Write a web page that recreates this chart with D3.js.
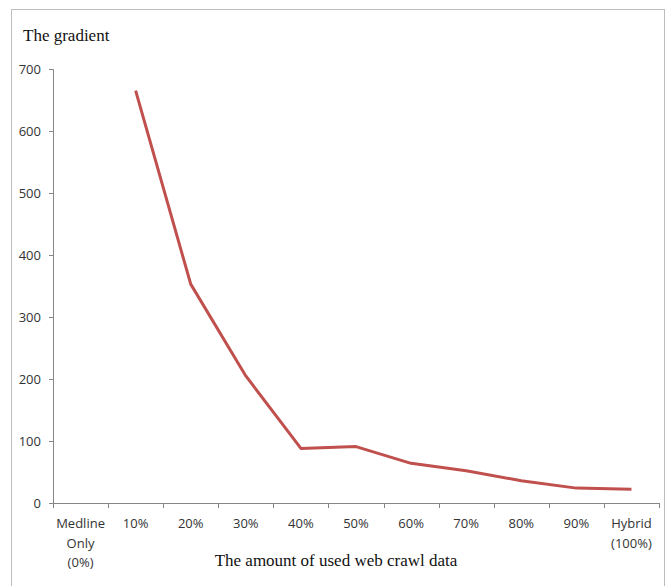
<!DOCTYPE html>
<html>
<head>
<meta charset="utf-8">
<script src="https://cdn.jsdelivr.net/npm/d3@7"></script>
<style>
  body { margin: 0; background: #fff; }
  .axis text { font-family: "Open Sans", "Noto Sans", sans-serif; font-size: 13px; fill: #333; }
  .axis path, .axis line { stroke: #868686; }
  .title { font-family: "Liberation Serif", "Times New Roman", serif; font-size: 17px; fill: #111; }
</style>
</head>
<body>
<div class="chart"></div>
<script>
// Categories (x-axis)
const categories = ["Medline Only (0%)", "10%", "20%", "30%", "40%", "50%", "60%", "70%", "80%", "90%", "Hybrid (100%)"]
// Multi-line tick labels
const tickLabels = [["Medline", "Only", "(0%)"], ["10%"], ["20%"], ["30%"], ["40%"], ["50%"], ["60%"], ["70%"], ["80%"], ["90%"], ["Hybrid", "(100%)"]]
// Gradient values (no value for Medline only)
const gradient = [null, 665, 353, 205, 88, 91, 64, 52, 36, 24, 22]
const yTicks = [0, 100, 200, 300, 400, 500, 600, 700]

const W = 666, H = 586
const margin = {top: 69, right: 7, bottom: 83, left: 53}
const width = W - margin.left - margin.right
const height = H - margin.top - margin.bottom

const svg = d3.select(".chart").append("svg")
    .attr("width", W)
    .attr("height", H)

// Outer frame
svg.append("rect")
    .attr("x", 11.5).attr("y", 9.5)
    .attr("width", 653).attr("height", 600)
    .attr("fill", "none")
    .attr("stroke", "#bdbdbd")

const g = svg.append("g")
    .attr("transform", `translate(${margin.left},${margin.top})`)

const xScale = d3.scaleBand()
    .domain(categories)
    .range([0, width])

const yScale = d3.scaleLinear()
    .domain([0, 700])
    .range([height, 0])

// y axis
const yAxis = g.append("g")
    .attr("class", "axis")
    .call(d3.axisLeft(yScale).tickValues(yTicks).tickSize(4).tickPadding(8))
yAxis.select(".domain").attr("d", `M-4,0.5H0.5V${height}`)

// x axis, ticks at band boundaries
const xAxis = g.append("g")
    .attr("class", "axis")
    .attr("transform", `translate(0,${height})`)
xAxis.append("path")
    .attr("class", "domain")
    .attr("d", `M-4,0.5H${width}`)
    .attr("fill", "none")
xAxis.selectAll(".bound")
    .data(d3.range(categories.length + 1))
    .enter()
    .append("line")
    .attr("x1", i => Math.round(i * xScale.step()) + 0.5)
    .attr("x2", i => Math.round(i * xScale.step()) + 0.5)
    .attr("y1", 0)
    .attr("y2", 5)

const lbl = xAxis.selectAll(".lbl")
    .data(categories)
    .enter()
    .append("text")
    .attr("text-anchor", "middle")
    .attr("transform", d => `translate(${xScale(d) + xScale.bandwidth() / 2},0)`)
lbl.selectAll("tspan")
    .data((d, i) => tickLabels[i])
    .enter()
    .append("tspan")
    .attr("x", 0)
    .attr("y", (d, j) => 25 + j * 19.5)
    .text(d => d)

// line
const line = d3.line()
    .defined(d => d.v != null)
    .x(d => xScale(d.c) + xScale.bandwidth() / 2)
    .y(d => yScale(d.v))

g.append("path")
    .datum(categories.map((c, i) => ({c, v: gradient[i]})))
    .attr("d", line)
    .attr("fill", "none")
    .attr("stroke", "#c0504d")
    .attr("stroke-width", 3)
    .attr("stroke-linejoin", "round")

// titles
svg.append("text")
    .attr("class", "title")
    .attr("x", 23).attr("y", 41)
    .text("The gradient")

svg.append("text")
    .attr("class", "title")
    .attr("x", 336).attr("y", 566)
    .attr("text-anchor", "middle")
    .text("The amount of used web crawl data")
</script>
</body>
</html>
